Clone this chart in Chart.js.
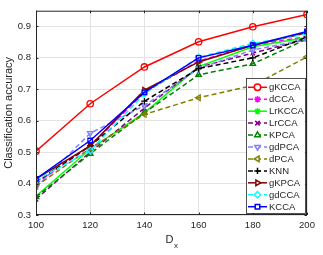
<!DOCTYPE html>
<html>
<head>
<meta charset="utf-8">
<script src="https://cdn.jsdelivr.net/npm/chart.js@4/dist/chart.umd.min.js"></script>
<style>
  html, body { margin: 0; padding: 0; background: #fff; }
  #wrap { width: 323px; height: 255px; }
</style>
</head>
<body>
<div id="wrap"><canvas id="graph-acc" width="323" height="255"></canvas></div>
<script>
// x values (D_x)
const dx = [100, 120, 140, 160, 180, 200];
const yTicks = [0.3, 0.4, 0.5, 0.6, 0.7, 0.8, 0.9];

// classification accuracy per method
const gKCCA  = [0.503, 0.654, 0.771, 0.851, 0.899, 0.938];
const dCCA   = [0.400, 0.520, 0.690, 0.790, 0.840, 0.868];
const LrKCCA = [0.360, 0.510, 0.625, 0.772, 0.835, 0.865];
const LrCCA  = [0.350, 0.500, 0.640, 0.770, 0.815, 0.860];
const KPCA   = [0.357, 0.495, 0.625, 0.746, 0.781, 0.860];
const gdPCA  = [0.388, 0.560, 0.648, 0.766, 0.825, 0.858];
const dPCA   = [0.392, 0.512, 0.620, 0.673, 0.712, 0.803];
const KNN    = [0.405, 0.520, 0.662, 0.766, 0.800, 0.866];
const gKPCA  = [0.415, 0.520, 0.697, 0.787, 0.840, 0.880];
const gdCCA  = [0.410, 0.505, 0.686, 0.802, 0.846, 0.876];
const KCCA   = [0.415, 0.537, 0.690, 0.800, 0.840, 0.884];

const labels = ["gKCCA", "dCCA", "LrKCCA", "LrCCA", "KPCA", "gdPCA", "dPCA", "KNN", "gKPCA", "gdCCA", "KCCA"];
const values = [gKCCA, dCCA, LrKCCA, LrCCA, KPCA, gdPCA, dPCA, KNN, gKPCA, gdCCA, KCCA];
const colors = ["#ff0000", "#ff00ff", "#00ff00", "#800080", "#008000", "#8080ff", "#808000", "#000000", "#800000", "#00ffff", "#0000ff"];
const dashed = [false, true, false, true, true, true, true, true, false, true, false];
const markers = ["circle", "star", "star", "crossRot", "triangle", "triangle", "triangle", "cross", "triangle", "rectRot", "rect"];
const rotations = [0, 0, 0, 0, 0, 180, -90, 0, 90, 0, 0];

const datasets = labels.map((name, i) => ({
    label: name,
    data: values[i].map((v, j) => ({x: dx[j], y: v})),
    borderColor: colors[i],
    backgroundColor: colors[i],
    borderWidth: 1.5,
    borderDash: dashed[i] ? [5, 3] : [],
    pointStyle: markers[i],
    pointRotation: rotations[i],
    pointRadius: 3.2,
    pointBorderWidth: 1.3,
    pointBorderColor: colors[i],
    pointBackgroundColor: 'rgba(255,255,255,0)',
    fill: false,
    tension: 0,
    order: labels.length - 1 - i
}));

const axisColor = '#262626';
const tickFont = {family: 'Liberation Sans, Arial, sans-serif', size: 9.5};

// axes box, inward ticks, titles and the in-plot legend
const decorPlugin = {
    id: 'decor',
    afterDatasetsDraw(chart) {
        const ctx = chart.ctx;
        const a = chart.chartArea;
        const xs = chart.scales.x, ys = chart.scales.y;
        ctx.save();
        ctx.strokeStyle = axisColor;
        ctx.lineWidth = 1;
        ctx.strokeRect(a.left + 0.5, a.top + 0.5, a.right - a.left - 1, a.bottom - a.top - 1);
        // small inward tick marks like matlab
        ctx.beginPath();
        dx.forEach(v => {
            const px = Math.round(xs.getPixelForValue(v)) + 0.5;
            ctx.moveTo(px, a.bottom); ctx.lineTo(px, a.bottom - 2.5);
            ctx.moveTo(px, a.top); ctx.lineTo(px, a.top + 2.5);
        });
        yTicks.forEach(v => {
            const py = Math.round(ys.getPixelForValue(v)) + 0.5;
            ctx.moveTo(a.left, py); ctx.lineTo(a.left + 2.5, py);
            ctx.moveTo(a.right, py); ctx.lineTo(a.right - 2.5, py);
        });
        ctx.stroke();

        // axis titles
        ctx.fillStyle = axisColor;
        ctx.font = '11px Liberation Sans, Arial, sans-serif';
        ctx.textBaseline = 'alphabetic';
        const cx = (a.left + a.right) / 2;
        ctx.textAlign = 'right';
        ctx.fillText('D', cx + 2, 243);
        ctx.font = '8px Liberation Sans, Arial, sans-serif';
        ctx.textAlign = 'left';
        ctx.fillText('x', cx + 2.5, 248);
        ctx.save();
        ctx.translate(12, (a.top + a.bottom) / 2);
        ctx.rotate(-Math.PI / 2);
        ctx.textAlign = 'center';
        ctx.font = '11px Liberation Sans, Arial, sans-serif';
        ctx.fillText('Classification accuracy', 0, 0);
        ctx.restore();

        // legend box inside the plot
        const lx = 246, ly = 78, lw = 59, lh = 135, rowH = 11.94, firstY = 87.3;
        ctx.fillStyle = '#ffffff';
        ctx.fillRect(lx, ly, lw, lh);
        ctx.strokeStyle = axisColor;
        ctx.lineWidth = 0.8;
        ctx.strokeRect(lx + 0.5, ly + 0.5, lw, lh);
        chart.data.datasets.forEach((ds, i) => {
            const y = firstY + i * rowH;
            ctx.save();
            ctx.strokeStyle = ds.borderColor;
            ctx.lineWidth = 1.5;
            ctx.setLineDash(ds.borderDash);
            ctx.beginPath();
            ctx.moveTo(248, y); ctx.lineTo(267, y);
            ctx.stroke();
            ctx.setLineDash([]);
            if (Chart.helpers && Chart.helpers.drawPoint) {
                Chart.helpers.drawPoint(ctx, {
                    pointStyle: ds.pointStyle,
                    rotation: ds.pointRotation,
                    radius: ds.pointRadius,
                    borderWidth: ds.pointBorderWidth
                }, 257.5, y);
            }
            ctx.fillStyle = axisColor;
            ctx.font = '9.5px Liberation Sans, Arial, sans-serif';
            ctx.textAlign = 'left';
            ctx.textBaseline = 'middle';
            ctx.fillText(ds.label, 269, y + 0.5);
            ctx.restore();
        });
        ctx.restore();
    }
};

const ctx = document.getElementById('graph-acc').getContext('2d');
const chart = new Chart(ctx, {
    type: 'line',
    data: { datasets: datasets },
    plugins: [decorPlugin],
    options: {
        responsive: false,
        animation: false,
        layout: { padding: { top: 8, right: 16, left: 0, bottom: 0 } },
        plugins: {
            legend: { display: false },
            tooltip: { enabled: false }
        },
        scales: {
            x: {
                type: 'linear',
                min: 100,
                max: 200,
                afterFit: s => { s.height = 40; },
                afterBuildTicks: s => { s.ticks = dx.map(v => ({value: v})); },
                ticks: {
                    autoSkip: false,
                    maxRotation: 0,
                    padding: 5,
                    color: axisColor,
                    font: tickFont
                },
                grid: { color: '#e3e3e3', drawTicks: false, lineWidth: 1 },
                border: { display: false }
            },
            y: {
                type: 'linear',
                min: 0.3,
                max: 0.95,
                afterFit: s => { s.width = 36; },
                afterBuildTicks: s => { s.ticks = yTicks.map(v => ({value: v})); },
                ticks: {
                    padding: 5,
                    color: axisColor,
                    font: tickFont,
                    callback: v => v.toFixed(1)
                },
                grid: { color: '#e3e3e3', drawTicks: false, lineWidth: 1 },
                border: { display: false }
            }
        }
    }
});
</script>
</body>
</html>
